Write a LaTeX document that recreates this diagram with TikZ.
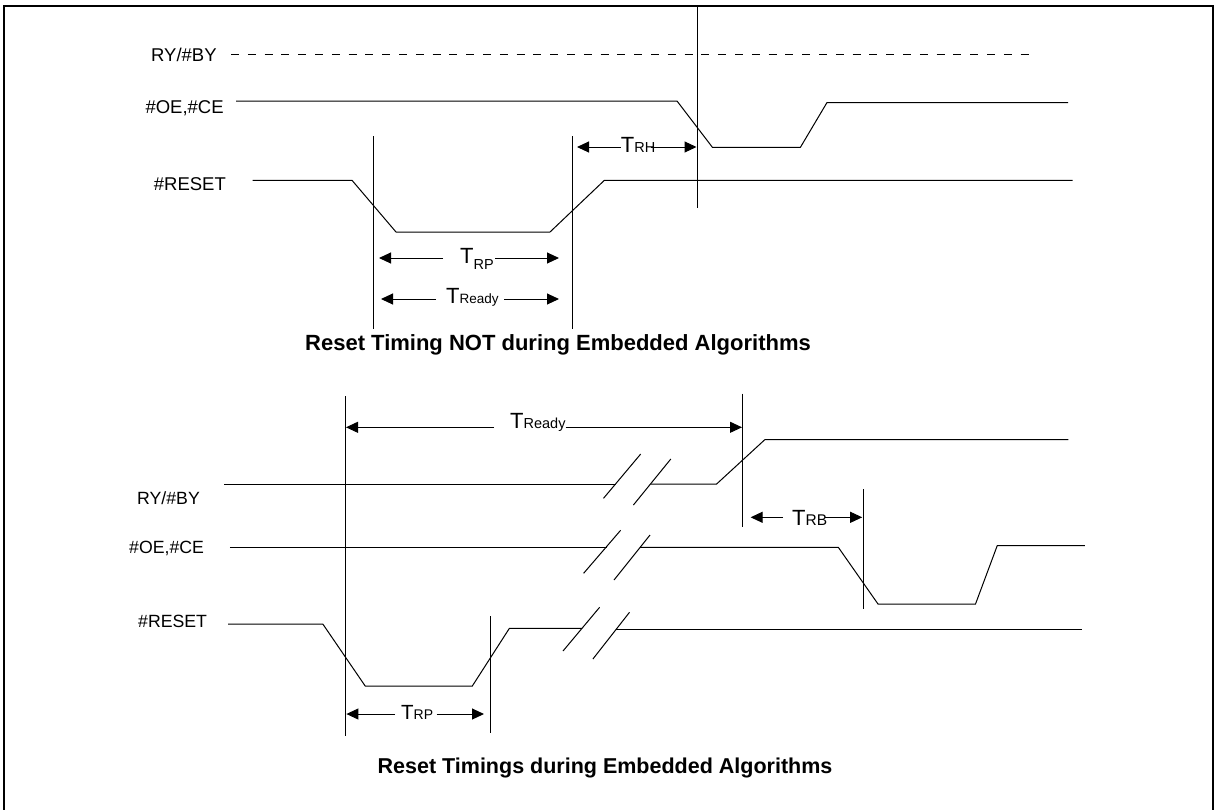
\documentclass[tikz,border=0pt]{standalone}
\usepackage{fontspec}
\setmainfont{Liberation Sans}
\usetikzlibrary{arrows.meta}
\newcommand{\Tsb}[3][0pt]{{\fontsize{22}{22}\selectfont T}\raisebox{#1}{\fontsize{#3}{15}\selectfont #2}}
\tikzset{
  sig/.style={line width=1pt, line join=miter},
  vln/.style={line width=1pt},
  dim/.style={line width=1pt, -{Triangle[length=12pt,width=11pt]}},
  lab/.style={font=\fontsize{18.5}{20}\selectfont, inner sep=0pt, anchor=base west},
  labb/.style={font=\fontsize{17.7}{20}\selectfont, inner sep=0pt, anchor=base west},
  ttl/.style={font=\bfseries\fontsize{22}{24}\selectfont, inner sep=0pt, anchor=base},
  tl/.style={inner sep=0pt, anchor=base west},
  frm/.style={line width=1.8pt}
}
\begin{document}
\begin{tikzpicture}[x=1pt,y=-1pt]
\useasboundingbox (0,0) rectangle (1214,809);
\fill[white] (0,0) rectangle (1214,809);
\draw[frm] (3.8,812) -- (3.8,5.8) -- (1213,5.8) -- (1213,812);

% ---------------- top diagram ----------------
\node[lab] (ry1) at (151,61.5) {RY/\#BY};
\node[lab] (oe1) at (145.3,113.5) {\#OE,\#CE};
\node[lab] (rs1) at (153.7,190) {\#RESET};

\draw[line width=1pt, dash pattern=on 8pt off 8.8pt] (231,54) -- (1036,54);
\draw[sig] (236,101) -- (677,101) -- (712.4,147.3) -- (800.4,147.3) -- (827,102.5) -- (1068,102.5);
\draw[sig] (252.5,180.3) -- (352,180.3) -- (396,232) -- (550,232) -- (604.4,180.3) -- (1072.5,180.3);

\coordinate (v1t) at (373,136); \coordinate (v1b) at (373,329);
\coordinate (v2t) at (572.5,136); \coordinate (v2b) at (572.5,329);
\coordinate (v3t) at (697.5,6); \coordinate (v3b) at (697.5,208);
\draw[vln] (v1t) -- (v1b);
\draw[vln] (v2t) -- (v2b);
\draw[vln] (v3t) -- (v3b);

% T_RH
\node[tl] (trh) at (620.7,152.7) {\Tsb{RH}{14.5}};
\coordinate (trhL) at (620.7,147); \coordinate (trhLt) at (577,147);
\coordinate (trhR) at (650.7,147); \coordinate (trhRt) at (696.5,147);
\draw[dim] (trhL) -- (trhLt);
\draw[dim] (trhR) -- (trhRt);

% T_RP top
\node[tl] (trp1) at (460,263.3) {\Tsb[-6pt]{RP}{14.5}};
\coordinate (trp1L) at (443,258); \coordinate (trp1Lt) at (379,258);
\coordinate (trp1R) at (495,258); \coordinate (trp1Rt) at (559,258);
\draw[dim] (trp1L) -- (trp1Lt);
\draw[dim] (trp1R) -- (trp1Rt);

% T_Ready top
\node[tl] (trd1) at (446,303.3) {\Tsb{Ready}{13.5}};
\coordinate (trd1L) at (436,299); \coordinate (trd1Lt) at (381,299);
\coordinate (trd1R) at (504,299); \coordinate (trd1Rt) at (559,299);
\draw[dim] (trd1L) -- (trd1Lt);
\draw[dim] (trd1R) -- (trd1Rt);

\node[ttl] (t1) at (558,350.4) {Reset Timing NOT during Embedded Algorithms};

% ---------------- bottom diagram ----------------
\node[labb] (ry2) at (137,504.5) {RY/\#BY};
\node[labb] (oe2) at (129,553.5) {\#OE,\#CE};
\node[labb] (rs2) at (138,627) {\#RESET};

% RY/#BY
\draw[sig] (224,484) -- (615.7,484);
\draw[sig] (650.5,484) -- (716.6,484) -- (765,439.5) -- (1068.4,439.5);
\draw[sig] (603.5,498.3) -- (640.7,454);
\draw[sig] (633.4,505) -- (670.8,459);

% #OE,#CE
\draw[sig] (229.9,547.3) -- (606.8,547.3);
\draw[sig] (640,547.3) -- (838.3,547.3) -- (878,604) -- (975.5,604) -- (997.2,545.7) -- (1084.9,545.7);
\draw[sig] (583.6,573.3) -- (620.6,530.3);
\draw[sig] (614,580) -- (650,535);

% #RESET
\draw[sig] (228,624) -- (322.8,624) -- (365.2,686) -- (472.3,686) -- (509.4,628.3) -- (582,628.3);
\draw[sig] (616.4,629.3) -- (1082,629.3);
\draw[sig] (563,651) -- (599.6,607.3);
\draw[sig] (592.9,659) -- (629.5,612.3);

\coordinate (w1t) at (345.5,396); \coordinate (w1b) at (345.5,736);
\coordinate (w2t) at (742.5,393.5); \coordinate (w2b) at (742.5,526.5);
\coordinate (w3t) at (863,489); \coordinate (w3b) at (863,609);
\coordinate (w4t) at (490.5,616); \coordinate (w4b) at (490.5,733);
\draw[vln] (w1t) -- (w1b);
\draw[vln] (w2t) -- (w2b);
\draw[vln] (w3t) -- (w3b);
\draw[vln] (w4t) -- (w4b);

% T_Ready bottom
\node[tl] (trd2) at (510,428) {\Tsb{Ready}{14.5}};
\coordinate (trd2L) at (494,427.3); \coordinate (trd2Lt) at (346,427.3);
\coordinate (trd2R) at (565.5,427.3); \coordinate (trd2Rt) at (742,427.3);
\draw[dim] (trd2L) -- (trd2Lt);
\draw[dim] (trd2R) -- (trd2Rt);

% T_RB
\node[tl] (trb) at (792,525.7) {\Tsb{RB}{15.5}};
\coordinate (trbL) at (783,517.3); \coordinate (trbLt) at (750.6,517.3);
\coordinate (trbR) at (825.3,517.3); \coordinate (trbRt) at (862.2,517.3);
\draw[dim] (trbL) -- (trbLt);
\draw[dim] (trbR) -- (trbRt);

% T_RP bottom
\node[tl] (trp2) at (401,719.3) {{\fontsize{20.5}{22}\selectfont T}{\fontsize{14}{15}\selectfont RP}};
\coordinate (trp2L) at (395,714); \coordinate (trp2Lt) at (346.4,714);
\coordinate (trp2R) at (436.6,714); \coordinate (trp2Rt) at (484,714);
\draw[dim] (trp2L) -- (trp2Lt);
\draw[dim] (trp2R) -- (trp2Rt);

\node[ttl, font=\bfseries\fontsize{21.5}{24}\selectfont] (t2) at (605,773) {Reset Timings during Embedded Algorithms};
\end{tikzpicture}
\end{document}
